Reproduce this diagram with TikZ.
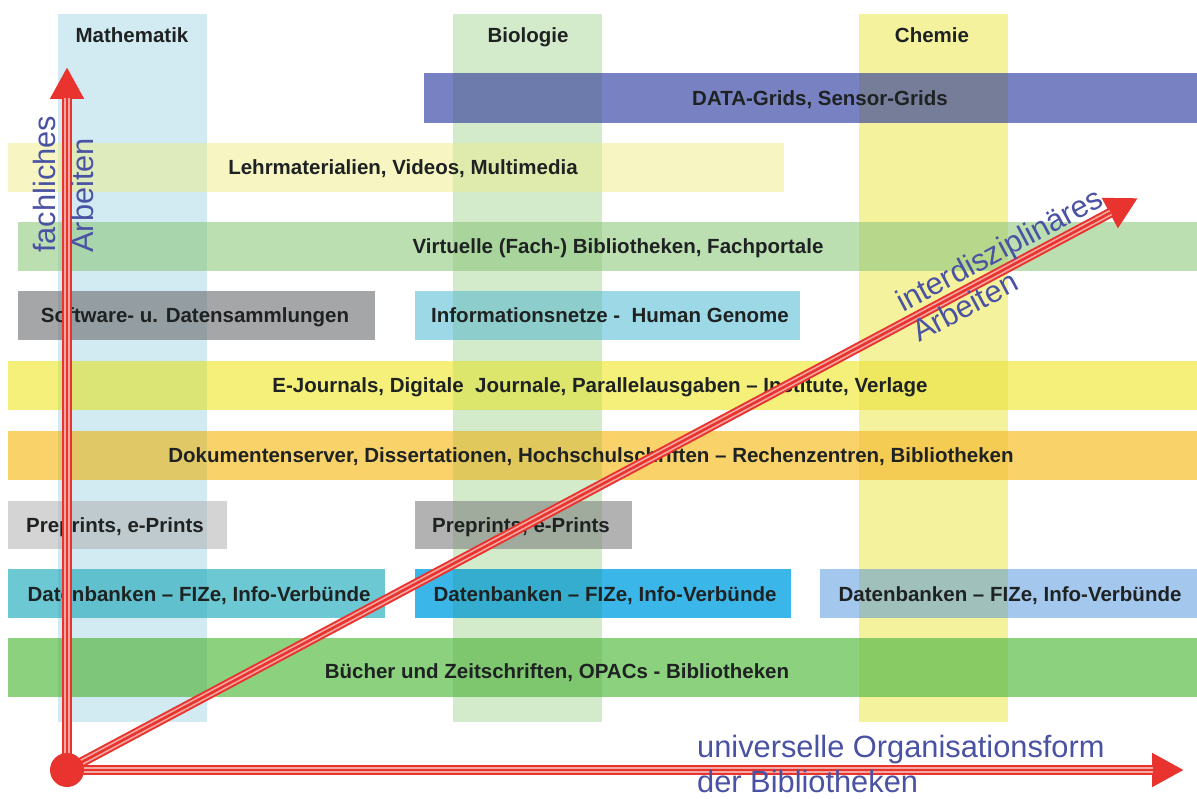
\documentclass[tikz,border=0pt]{standalone}
\usepackage{fontspec}
\setmainfont{Liberation Sans}
\usetikzlibrary{arrows.meta}
\definecolor{colMath}{HTML}{D2EBF3}
\definecolor{colBio}{HTML}{D3EBCB}
\definecolor{colChem}{HTML}{F5F29E}
\definecolor{cData}{HTML}{7881C2}
\definecolor{cLehr}{HTML}{F7F6C2}
\definecolor{cVirt}{HTML}{BCDFB1}
\definecolor{cSoft}{HTML}{A5A6A7}
\definecolor{cInfo}{HTML}{9CD8E6}
\definecolor{cEJ}{HTML}{F4F07A}
\definecolor{cDok}{HTML}{FAD26A}
\definecolor{cPrepA}{HTML}{D4D4D4}
\definecolor{cPrepB}{HTML}{B2B2B2}
\definecolor{cDatA}{HTML}{6CC9D3}
\definecolor{cDatB}{HTML}{3BB6E9}
\definecolor{cDatC}{HTML}{A4C7EE}
\definecolor{cBuch}{HTML}{8CD17E}
\definecolor{txt}{HTML}{1E2222}
\definecolor{axblue}{HTML}{4A52A3}
\definecolor{arrred}{HTML}{E8332E}
\definecolor{arrpink}{HTML}{F5A7A2}
\begin{document}
\begin{tikzpicture}[x=1pt,y=-1pt,
  colbox/.style={fill=#1, draw=none},
  tintbox/.style={fill=#1, draw=none, blend mode=multiply, fill opacity=0.55},
  barbox/.style={fill=#1, draw=none},
  lbl/.style={font=\bfseries\fontsize{20.5}{24}\selectfont, text=txt, inner sep=0pt, anchor=base},
  axlbl/.style={font=\fontsize{30.8}{34}\selectfont, text=axblue, inner sep=0pt},
  shaftA/.style={draw=arrred, line width=10pt},
  shaftB/.style={draw=arrpink, line width=6pt, shorten >=31pt},
  shaftC/.style={draw=arrred, line width=2.6pt, shorten >=31pt},
  headtip/.style={-{Triangle[length=32pt,width=32pt]}},
]
\useasboundingbox (0,0) rectangle (1197,799);
\fill[white] (0,0) rectangle (1197,799);

% columns
\path[colbox=colMath] (58,14) rectangle (207,722);
\path[colbox=colBio]  (453,14) rectangle (602,722);
\path[colbox=colChem] (859,14) rectangle (1008,722);
\node[lbl] (hMath) at (132,43) {Mathematik};
\node[lbl] (hBio)  at (528,43) {Biologie};
\node[lbl] (hChem) at (932,43) {Chemie};

% bars
\path[barbox=cData]  (424,73)  rectangle (1197,123);
\path[barbox=cLehr]  (8,143)   rectangle (784,192);
\path[barbox=cVirt]  (18,222)  rectangle (1197,271);
\path[barbox=cSoft]  (18,291)  rectangle (375,340);
\path[barbox=cInfo]  (415,291) rectangle (800,340);
\path[barbox=cEJ]    (8,361)   rectangle (1197,410);
\path[barbox=cDok]   (8,431)   rectangle (1197,480);
\path[barbox=cPrepA] (8,501)   rectangle (227,549);
\path[barbox=cPrepB] (415,501) rectangle (632,549);
\path[barbox=cDatA]  (8,569)   rectangle (385,618);
\path[barbox=cDatB]  (415,569) rectangle (791,618);
\path[barbox=cDatC]  (820,569) rectangle (1197,618);
\path[barbox=cBuch]  (8,638)   rectangle (1197,697);

% columns showing through the bars
\begin{scope}
\clip (424,73) rectangle (1197,123) (8,143) rectangle (784,192)
      (18,222) rectangle (1197,271) (18,291) rectangle (375,340)
      (415,291) rectangle (800,340) (8,361) rectangle (1197,410)
      (8,431) rectangle (1197,480) (8,501) rectangle (227,549)
      (415,501) rectangle (632,549) (8,569) rectangle (385,618)
      (415,569) rectangle (791,618) (820,569) rectangle (1197,618)
      (8,638) rectangle (1197,697);
\path[tintbox=colMath] (58,14) rectangle (207,722);
\path[tintbox=colBio]  (453,14) rectangle (602,722);
\path[tintbox=colChem] (859,14) rectangle (1008,722);
\end{scope}

% bar labels
\node[lbl] (tData) at (820,106) {DATA-Grids, Sensor-Grids};
\node[lbl] (tLehr) at (403,175) {Lehrmaterialien, Videos, Multimedia};
\node[lbl] (tVirt) at (618,254) {Virtuelle (Fach-) Bibliotheken, Fachportale};
\node[lbl] (tSoft) at (195,323) {Software- u. Datensammlungen};
\node[lbl] (tInfo) at (610,323) {Informationsnetze -\ \ Human Genome};
\node[lbl] (tEJ)   at (600,393) {E-Journals, Digitale\ \ Journale, Parallelausgaben – Institute, Verlage};
\node[lbl] (tDok)  at (591,463) {Dokumentenserver, Dissertationen, Hochschulschriften – Rechenzentren, Bibliotheken};
\node[lbl] (tPrA)  at (115,532) {Preprints, e-Prints};
\node[lbl] (tPrB)  at (521,532) {Preprints, e-Prints};
\node[lbl] (tDaA)  at (199,601) {Datenbanken – FIZe, Info-Verbünde};
\node[lbl] (tDaB)  at (605,601) {Datenbanken – FIZe, Info-Verbünde};
\node[lbl] (tDaC)  at (1010,601) {Datenbanken – FIZe, Info-Verbünde};
\node[lbl] (tBuch) at (557,678) {Bücher und Zeitschriften, OPACs - Bibliotheken};

% axes
\coordinate (O) at (67,770);
\coordinate (V) at (67,67);
\coordinate (H) at (1184,770);
\coordinate (D) at (1138,198);
\foreach \e in {V,H,D}{
  \draw[shaftA,headtip] (O) -- (\e);
  \draw[shaftB] (O) -- (\e);
  \draw[shaftC] (O) -- (\e);
}
\fill[arrred] (O) circle[radius=17pt];

% axis labels
\node[axlbl, rotate=90, anchor=base west] (lFach) at (55,253) {fachliches};
\node[axlbl, rotate=90, anchor=base west] (lArbV) at (93,253) {Arbeiten};
\node[axlbl, rotate=28.1, anchor=base west] (lInter) at (903,313) {interdisziplinäres};
\node[axlbl, rotate=28.1, anchor=base west] (lArbD) at (919,343) {Arbeiten};
\node[axlbl, anchor=base west] (lUni) at (697,757) {universelle Organisationsform};
\node[axlbl, anchor=base west] (lBib) at (697,792) {der Bibliotheken};
\end{tikzpicture}
\end{document}
